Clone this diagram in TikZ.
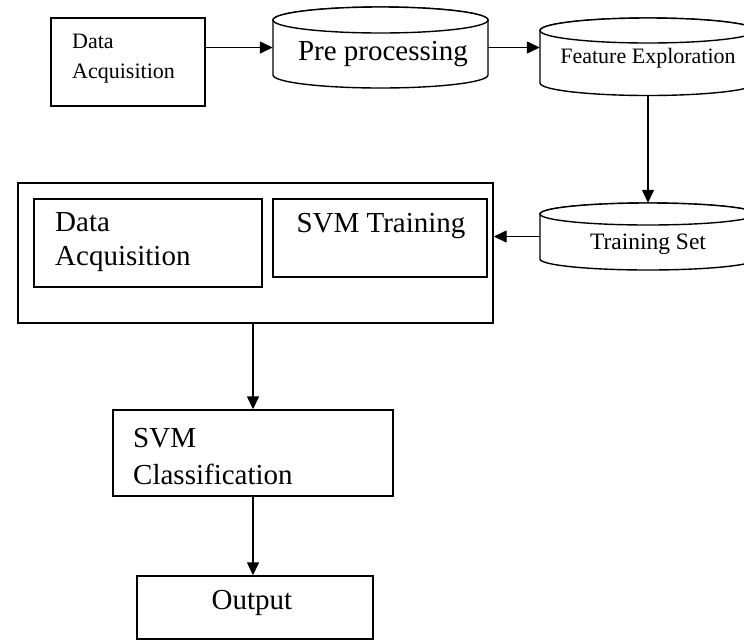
\documentclass[tikz,border=0pt]{standalone}
\usepackage{fontspec}
\setmainfont{Liberation Serif}
\usetikzlibrary{arrows.meta}
\newcommand\drawcyl[5]{% cx rx ytop ybot ry
  \filldraw[cyl] ({#1-#2},#3) -- ({#1-#2},#4)
     arc[start angle=180,end angle=360,x radius=#2pt,y radius=#5pt]
     -- ({#1+#2},#3)
     arc[start angle=0,end angle=180,x radius=#2pt,y radius=#5pt] -- cycle;
  \draw[cyl] (#1,#3) ellipse[x radius=#2pt,y radius=#5pt];}
\begin{document}
\begin{tikzpicture}[x=1pt,y=-1pt,
  box/.style={draw,line width=1.4pt,inner sep=0pt,fill=white},
  hold/.style={inner sep=0pt},
  big/.style={font=\fontsize{29}{35}\selectfont,inner sep=0pt},
  small/.style={font=\fontsize{22}{26}\selectfont,inner sep=0pt},
  arr/.style={line width=1.4pt,-{Triangle[length=13pt,width=12pt]}},
  cyl/.style={line width=1.4pt,fill=white}]
\useasboundingbox (0,0) rectangle (744,641);
\clip (0,0) rectangle (744,641);
% top row
\node[box,minimum width=154pt,minimum height=88pt] (box1) at (128,62) {};
\node[small,anchor=base west] (t1a) at (72,48) {Data};
\node[small,anchor=base west] (t1b) at (72,78) {Acquisition};

\drawcyl{380.5}{107.5}{20}{75}{13}
\node[hold,minimum width=215pt,minimum height=81pt] (pre) at (380.5,47.5) {};
\node[big,anchor=base] (t2) at (383,60) {Pre processing};

\drawcyl{648}{108}{30.5}{83}{12.5}
\node[hold,minimum width=216pt,minimum height=77.5pt] (feat) at (648,56.75) {};
\node[small,anchor=base] (t3) at (648,63) {Feature Exploration};

\drawcyl{648}{108}{214}{259}{11}
\node[hold,minimum width=216pt,minimum height=67pt] (train) at (648,236.5) {};
\node[font=\fontsize{23.5}{28}\selectfont,inner sep=0pt,anchor=base] (t4) at (648,249) {Training Set};

% middle group
\node[box,minimum width=475pt,minimum height=140pt] (outer) at (255.5,253) {};
\node[box,minimum width=228pt,minimum height=88pt] (da2) at (148,243) {};
\node[big,anchor=base west] (t5a) at (55,231) {Data};
\node[big,anchor=base west] (t5b) at (55,265) {Acquisition};
\node[box,minimum width=214pt,minimum height=78pt] (svmt) at (380,238) {};
\node[big,anchor=base] (t6) at (381,232) {SVM Training};

% lower column
\node[box,minimum width=280pt,minimum height=86pt] (svmc) at (253,453) {};
\node[big,anchor=base west] (t7a) at (133,447) {SVM};
\node[big,anchor=base west] (t7b) at (133,484) {Classification};
\node[box,minimum width=236pt,minimum height=63pt] (out) at (255,607.5) {};
\node[big,anchor=base] (t8) at (252,609) {Output};

% connectors
\draw[arr] (box1.east |- pre.west) -- (pre.west);
\draw[arr] (pre.east) -- (feat.west |- pre.east);
\draw[arr] (feat.south) -- (train.north);
\draw[arr] (train.west) -- (outer.east |- train.west);
\draw[arr] (svmc.north |- outer.south) -- (svmc.north);
\draw[arr] (svmc.south) -- (svmc.south |- out.north);
\end{tikzpicture}
\end{document}
